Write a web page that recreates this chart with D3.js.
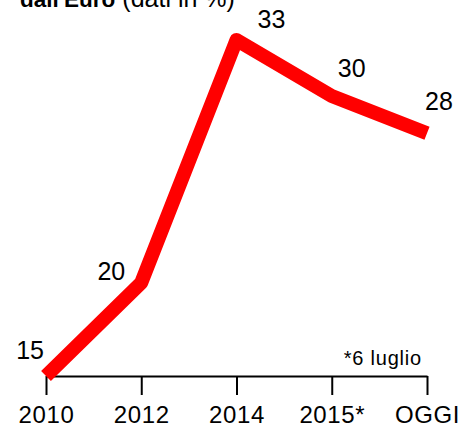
<!DOCTYPE html>
<html><head><meta charset="utf-8">
<script src="https://cdn.jsdelivr.net/npm/d3@7"></script>
<style>html,body{margin:0;padding:0;background:#fff;}svg{display:block;}</style>
</head><body>
<svg id="c" width="460" height="427"></svg>
<script>
const categories = ["2010", "2012", "2014", "2015*", "OGGI"];
const values = [15, 20, 33, 30, 28];
const titleBold = "dall'Euro";
const titleRest = " (dati in %)";
const note = "*6 luglio";

const svg = d3.select("#c");
const font = "'Liberation Sans', Arial, sans-serif";

const x = d3.scalePoint().domain(categories).range([46, 427]);
const y = d3.scaleLinear().domain([15, 33]).range([376, 40]);

// title (cut off at top, as in the source)
const t = svg.append("text").attr("x", 20).attr("y", 7)
  .attr("font-family", font).attr("fill", "#000");
t.append("tspan").attr("font-weight", "bold").attr("font-size", 22.5).text(titleBold);
t.append("tspan").attr("font-size", 25).text(titleRest);

// axis
const axis = d3.axisBottom(x).tickSize(19).tickPadding(6).tickSizeOuter(0);
const ax = svg.append("g").attr("transform", "translate(0,376)").call(axis);
ax.select(".domain").attr("stroke", "#000").attr("stroke-width", 2.2);
ax.selectAll(".tick line").attr("stroke", "#000").attr("stroke-width", 2);
ax.selectAll(".tick text").attr("font-family", font).attr("font-size", 24)
  .attr("letter-spacing", 0.6)
  .attr("fill", "#000").attr("dy", null).attr("y", 47);

// note
svg.append("text").attr("x", 422).attr("y", 365).attr("text-anchor", "end")
  .attr("font-family", font).attr("font-size", 20).attr("letter-spacing", 0.8)
  .attr("fill", "#000").text(note);

// line
const pts = categories.map((c, i) => [x(c), y(values[i])]);
svg.append("path").datum(pts)
  .attr("d", d3.line())
  .attr("fill", "none").attr("stroke", "#ff0000").attr("stroke-width", 14)
  .attr("stroke-linejoin", "round").attr("stroke-linecap", "butt");

// value labels
const labelOffsets = [[-2, -17, "end"], [-16, -3, "end"], [21, -12, "start"], [6, -19, "start"], [-2, -23, "start"]];
svg.append("g").selectAll("text").data(values).join("text")
  .attr("x", (d, i) => x(categories[i]) + labelOffsets[i][0])
  .attr("y", (d, i) => y(d) + labelOffsets[i][1])
  .attr("text-anchor", (d, i) => labelOffsets[i][2])
  .attr("font-family", font).attr("font-size", 25).attr("fill", "#000")
  .text(d => d);
</script>
</body></html>
